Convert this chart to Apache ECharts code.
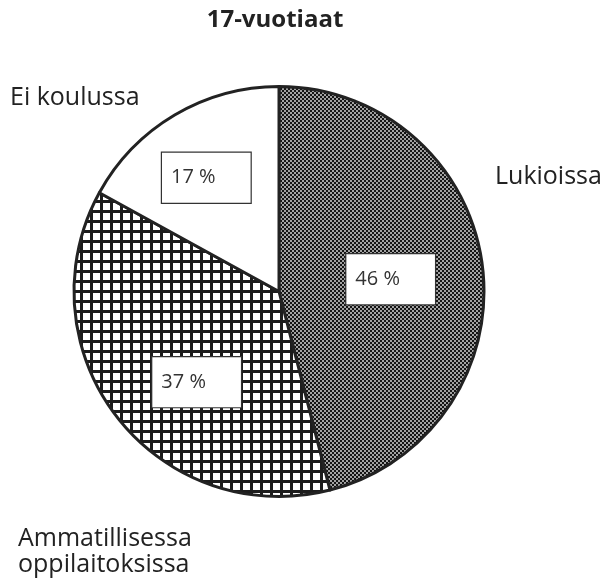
<!DOCTYPE html>
<html>
<head>
<meta charset="utf-8">
<script src="https://cdn.jsdelivr.net/npm/echarts@6/dist/echarts.min.js"></script>
<style>
  html, body { margin: 0; padding: 0; background: #ffffff; }
  #chart { width: 604px; height: 585px; }
</style>
</head>
<body>
<div id="chart"></div>
<script>
// ---- data ----
const title = '17-vuotiaat';
const categories = ['Lukioissa', 'Ammatillisessa\noppilaitoksissa', 'Ei koulussa'];
const values = [46, 37, 17];

// ---- patterns ----
function checkerPattern() {
  const c = document.createElement('canvas');
  c.width = 4; c.height = 4;
  const g = c.getContext('2d');
  g.fillStyle = '#a2a2a2';
  g.fillRect(0, 0, 4, 4);
  g.fillStyle = '#141414';
  g.fillRect(0, 0, 2, 2);
  g.fillRect(2, 2, 2, 2);
  return c;
}
function gridPattern() {
  const c = document.createElement('canvas');
  c.width = 10; c.height = 10;
  const g = c.getContext('2d');
  g.fillStyle = '#ffffff';
  g.fillRect(0, 0, 10, 10);
  g.fillStyle = '#1c1c1c';
  g.fillRect(0, 0, 10, 3);
  g.fillRect(0, 0, 3, 10);
  return c;
}
const fills = [
  { image: checkerPattern(), repeat: 'repeat' },
  { image: gridPattern(), repeat: 'repeat' },
  '#ffffff'
];
const innerOffsets = [[7, 1], [1, 26], [-19, -23]];
const outerPos = [
  { x: 495, y: 177, align: 'left' },
  { x: 18, y: 552, align: 'left' },
  { x: 10, y: 98, align: 'left' }
];

const chart = echarts.init(document.getElementById('chart'), null, { renderer: 'canvas' });
const center = [279, 291.5];
const radius = 205;

chart.setOption({
  backgroundColor: '#ffffff',
  animation: false,
  title: {
    text: title,
    left: 270,
    top: 3,
    textAlign: 'center',
    textStyle: { fontFamily: 'Open Sans', fontWeight: 'bold', fontSize: 24, color: '#222' }
  },
  series: [
    {
      type: 'pie',
      center: center,
      radius: radius,
      startAngle: 90,
      clockwise: true,
      silent: true,
      itemStyle: { borderColor: '#222', borderWidth: 3 },
      label: {
        show: true,
        position: 'inside',
        formatter: '{c} %',
        fontFamily: 'Open Sans',
        fontSize: 20,
        color: '#333',
        backgroundColor: '#ffffff',
        borderColor: '#333',
        borderWidth: 1.2,
        padding: [15, 35, 15, 9],
        lineHeight: 20
      },
      labelLine: { show: false },
      data: values.map((v, i) => ({
        value: v,
        name: categories[i],
        itemStyle: { color: fills[i] },
        label: { offset: innerOffsets[i] }
      }))
    },
    {
      type: 'pie',
      center: center,
      radius: radius,
      startAngle: 90,
      clockwise: true,
      silent: true,
      itemStyle: { color: 'rgba(0,0,0,0)', borderWidth: 0 },
      label: {
        show: true,
        position: 'outside',
        formatter: '{b}',
        fontFamily: 'Open Sans',
        fontSize: 25,
        lineHeight: 26,
        color: '#222',
        overflow: 'none',
        width: 300
      },
      labelLine: { show: false },
      labelLayout: function (p) {
        const o = outerPos[p.dataIndex];
        return { x: o.x, y: o.y, align: o.align, verticalAlign: 'middle', hideOverlap: false, moveOverlap: null };
      },
      data: values.map((v, i) => ({ value: v, name: categories[i] }))
    }
  ]
});
</script>
</body>
</html>
